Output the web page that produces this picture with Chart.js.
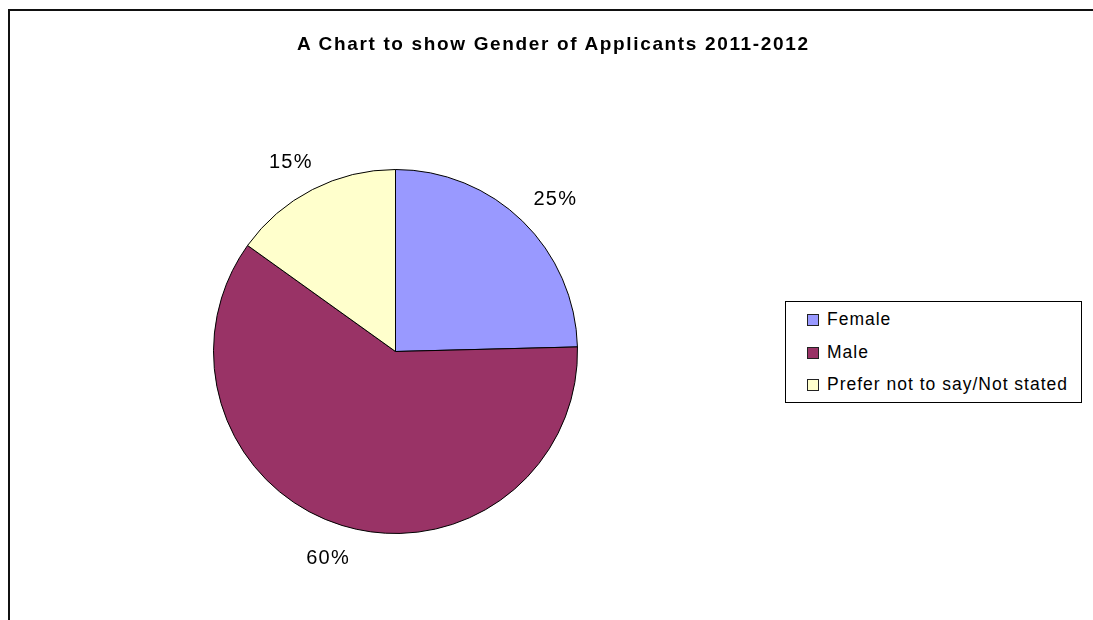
<!DOCTYPE html>
<html>
<head>
<meta charset="utf-8">
<title>Gender of Applicants 2011-2012</title>
<script src="https://cdn.jsdelivr.net/npm/chart.js@4/dist/chart.umd.min.js"></script>
<style>
    body { margin: 0; background: #fff; font-family: "Liberation Sans", Arial, sans-serif; color: #000; }
    #wrap { position: relative; width: 1093px; height: 620px; overflow: hidden; }
    #frame { position: absolute; left: 8px; top: 9px; width: 1200px; height: 700px;
             border-left: 2px solid #111; border-top: 2px solid #111; }
    #chart { position: absolute; left: 0; top: 0; }
    #title { position: absolute; left: 297px; top: 34px; font-size: 19px; line-height: 19px;
             font-weight: bold; letter-spacing: 1.65px; white-space: nowrap; }
    #legend { position: absolute; left: 785px; top: 301px; width: 295px; height: 100px;
              border: 1px solid #000; background: #fff; }
    .item { position: absolute; left: 21px; height: 20px; font-size: 17.5px; line-height: 20px;
            letter-spacing: 1px; white-space: nowrap; }
    .item span { display: inline-block; width: 10px; height: 10px; border: 1px solid #222;
                 margin-right: 8px; vertical-align: -1px; }
    .pct { position: absolute; font-size: 20px; line-height: 20px; letter-spacing: 1.3px; white-space: nowrap; }
</style>
</head>
<body>
<div id="wrap">
    <div id="frame"></div>
    <canvas id="chart" width="1093" height="620"></canvas>
    <div id="title">A Chart to show Gender of Applicants 2011-2012</div>
    <div id="legend"></div>
</div>
<script>
    "use strict";

    // data (percent of applicants)
    const categories = ["Female", "Male", "Prefer not to say/Not stated"];
    const shares = [24.6, 60.3, 15.1];
    const sliceColours = ["#9999FF", "#993366", "#FFFFCC"];
    const chartTitle = "A Chart to show Gender of Applicants 2011-2012";

    document.getElementById("title").textContent = chartTitle;

    // Legend
    const legend = document.getElementById("legend");
    categories.forEach(function (name, i) {
        const row = document.createElement("div");
        row.className = "item";
        row.style.top = (7 + i * 32.5) + "px";
        const box = document.createElement("span");
        box.style.background = sliceColours[i];
        row.appendChild(box);
        row.appendChild(document.createTextNode(name));
        legend.appendChild(row);
    });

    // Percent labels placed just outside each slice
    const pctLabels = {
        id: "pctLabels",
        afterDraw: function (chart) {
            const meta = chart.getDatasetMeta(0);
            const wrap = document.getElementById("wrap");
            meta.data.forEach(function (arc, i) {
                let el = document.getElementById("pct" + i);
                if (!el) {
                    el = document.createElement("div");
                    el.id = "pct" + i;
                    el.className = "pct";
                    wrap.appendChild(el);
                }
                el.textContent = Math.round(shares[i]) + "%";
                const mid = (arc.startAngle + arc.endAngle) / 2;
                const dx = Math.cos(mid), dy = Math.sin(mid);
                const r = arc.outerRadius + 25;
                const w = el.offsetWidth, h = 15;
                const cx = arc.x + dx * r + dx * w / 2;
                const cy = arc.y + dy * r + dy * h / 2;
                el.style.left = (cx - w / 2) + "px";
                el.style.top = (cy - el.offsetHeight / 2) + "px";
            });
        }
    };

    const ctx = document.getElementById("chart").getContext("2d");
    const pie = new Chart(ctx, {
        type: "pie",
        data: {
            labels: categories,
            datasets: [{
                data: shares,
                backgroundColor: sliceColours,
                borderColor: "#000",
                borderWidth: 1
            }]
        },
        options: {
            responsive: false,
            animation: false,
            layout: { padding: { left: 213, top: 169, right: 515, bottom: 86 } },
            plugins: {
                legend: { display: false },
                title: { display: false },
                tooltip: { enabled: false }
            }
        },
        plugins: [pctLabels]
    });
</script>
</body>
</html>
